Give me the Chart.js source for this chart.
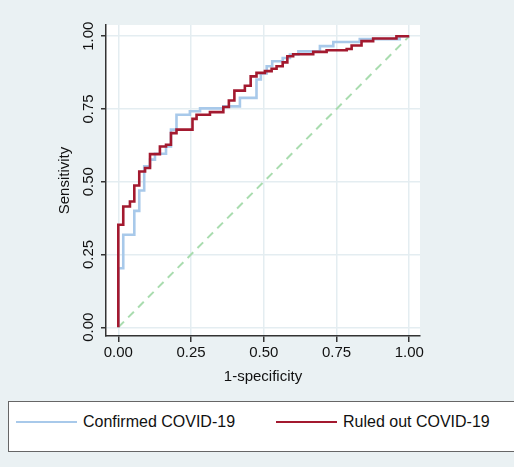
<!DOCTYPE html>
<html>
<head>
<meta charset="utf-8">
<script src="https://cdn.jsdelivr.net/npm/chart.js@4/dist/chart.umd.min.js"></script>
<style>
  html, body { margin: 0; padding: 0; background: #eaf1f3; }
  #wrap { position: relative; width: 514px; height: 467px; overflow: hidden; }
  #legend {
    position: absolute; left: 8px; top: 401px; width: 530px; height: 51px;
    background: #fff; border: 1px solid #666; box-sizing: border-box;
    font-family: "Liberation Sans", Arial, sans-serif; font-size: 16px; color: #111;
  }
  .item { position: absolute; top: 10px; height: 20px; display: flex; align-items: center; }
  .swatch { display: inline-block; width: 61px; height: 0; margin-right: 6px; }
</style>
</head>
<body>
<div id="wrap">
  <canvas id="roc" width="514" height="467"></canvas>
  <div id="legend"></div>
</div>
<script>
// ROC curve points (1-specificity, sensitivity)
const confirmedFpr = [0, 0, 0.017, 0.055, 0.072, 0.089, 0.109, 0.126, 0.164, 0.181, 0.2, 0.246, 0.281, 0.361, 0.418, 0.475, 0.49, 0.51, 0.529, 0.565, 0.59, 0.619, 0.693, 0.739, 0.83, 0.967, 1];
const confirmedTpr = [0, 0.203, 0.318, 0.40, 0.47, 0.553, 0.576, 0.596, 0.621, 0.679, 0.73, 0.742, 0.752, 0.759, 0.788, 0.851, 0.872, 0.897, 0.914, 0.925, 0.937, 0.948, 0.966, 0.98, 0.99, 1.0, 1.0];

const ruledOutFpr = [0, 0, 0.017, 0.04, 0.055, 0.072, 0.092, 0.109, 0.143, 0.164, 0.181, 0.2, 0.255, 0.269, 0.315, 0.361, 0.38, 0.399, 0.435, 0.455, 0.475, 0.504, 0.527, 0.544, 0.565, 0.581, 0.601, 0.67, 0.716, 0.785, 0.802, 0.836, 0.876, 0.956, 1.0];
const ruledOutTpr = [0, 0.352, 0.415, 0.432, 0.487, 0.535, 0.547, 0.595, 0.621, 0.627, 0.667, 0.679, 0.716, 0.73, 0.739, 0.757, 0.779, 0.813, 0.83, 0.862, 0.874, 0.88, 0.888, 0.897, 0.91, 0.931, 0.938, 0.946, 0.952, 0.956, 0.968, 0.983, 0.992, 1.0, 1.0];

const refLineX = [0, 1];
const refLineY = [0, 1];

const tickValues = [0, 0.25, 0.5, 0.75, 1];

const toPoints = (xs, ys) => xs.map((x, i) => ({ x: x, y: ys[i] }));

const FONT = "'Liberation Sans', Arial, sans-serif";

// white plot region
const plotBackground = {
  id: "plotBackground",
  beforeDraw(chart) {
    const { ctx, chartArea } = chart;
    ctx.save();
    ctx.fillStyle = "#ffffff";
    ctx.fillRect(chartArea.left, chartArea.top, chartArea.right - chartArea.left, chartArea.bottom - chartArea.top);
    ctx.restore();
  }
};

const fixedTicks = (scale) => {
  scale.ticks = tickValues.map((v) => ({ value: v }));
};

const chart = new Chart(document.getElementById("roc"), {
  type: "line",
  data: {
    datasets: [
      {
        label: "Ruled out COVID-19",
        data: toPoints(ruledOutFpr, ruledOutTpr),
        borderColor: "#a3192f",
        borderWidth: 2.6,
        stepped: "before",
        pointRadius: 0,
        order: 0
      },
      {
        label: "Confirmed COVID-19",
        data: toPoints(confirmedFpr, confirmedTpr),
        borderColor: "#a8c9ea",
        borderWidth: 2.6,
        stepped: "before",
        pointRadius: 0,
        order: 1
      },
      {
        label: "",
        data: toPoints(refLineX, refLineY),
        borderColor: "#a9dcaf",
        borderWidth: 2,
        borderDash: [8, 6],
        pointRadius: 0,
        order: 2
      }
    ]
  },
  options: {
    responsive: false,
    animation: false,
    layout: { padding: { left: 50, top: 25, right: 94, bottom: 79 } },
    plugins: { legend: { display: false }, tooltip: { enabled: false } },
    scales: {
      x: {
        type: "linear",
        min: -0.0423,
        max: 1.037,
        afterBuildTicks: fixedTicks,
        afterFit: (scale) => { scale.height = 52; },
        grid: { color: "#e4edf1", lineWidth: 1.5, tickColor: "#333", tickLength: 6 },
        border: { color: "#333", width: 1.5 },
        ticks: {
          color: "#111", padding: 2, maxRotation: 0,
          font: { family: FONT, size: 15 },
          callback: (v) => Number(v).toFixed(2)
        },
        title: {
          display: true, text: "1-specificity", color: "#111",
          font: { family: FONT, size: 15 }, padding: { top: 0, bottom: 2 }
        }
      },
      y: {
        type: "linear",
        min: -0.03,
        max: 1.0385,
        afterBuildTicks: fixedTicks,
        afterFit: (scale) => { scale.width = 56; },
        grid: { color: "#e4edf1", lineWidth: 1.5, tickColor: "#333", tickLength: 5 },
        border: { color: "#333", width: 1.5 },
        ticks: {
          color: "#111", padding: -2, minRotation: 90, maxRotation: 90, crossAlign: "center",
          font: { family: FONT, size: 15 },
          callback: (v) => Number(v).toFixed(2)
        },
        title: {
          display: true, text: "Sensitivity", color: "#111",
          font: { family: FONT, size: 15 }, padding: { top: 6, bottom: 0 }
        }
      }
    }
  },
  plugins: [plotBackground]
});

// legend box built from the dataset labels and colours
const legendEl = document.getElementById("legend");
const legendOrder = ["Confirmed COVID-19", "Ruled out COVID-19"];
const legendLeft = [7, 267];
legendOrder.forEach((name, i) => {
  const ds = chart.data.datasets.find((d) => d.label === name);
  const item = document.createElement("div");
  item.className = "item";
  item.style.left = legendLeft[i] + "px";
  const sw = document.createElement("span");
  sw.className = "swatch";
  sw.style.borderTop = "2px solid " + ds.borderColor;
  item.appendChild(sw);
  item.appendChild(document.createTextNode(ds.label));
  legendEl.appendChild(item);
});
</script>
</body>
</html>
